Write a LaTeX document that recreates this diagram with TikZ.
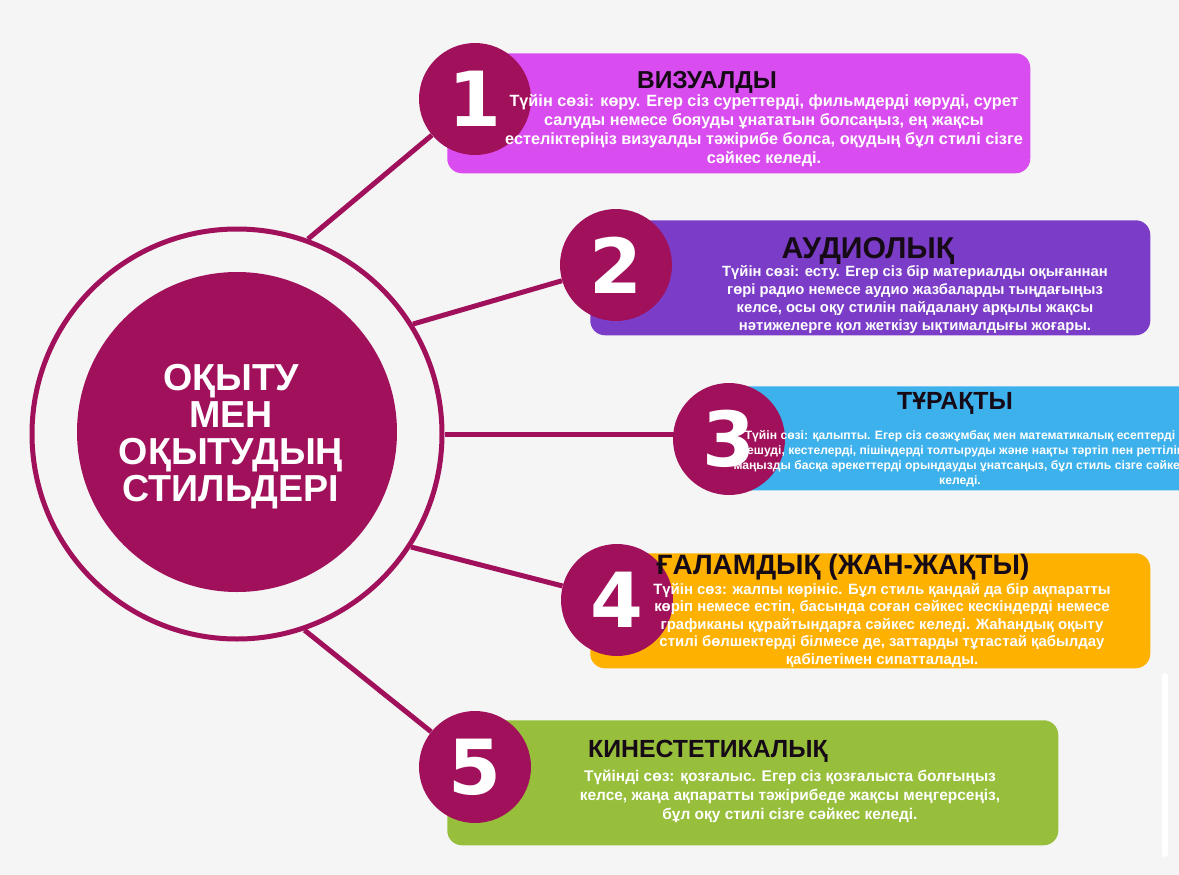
\documentclass[tikz,border=0pt]{standalone}
\usepackage{fontspec}
\setmainfont{Liberation Sans}
\newfontfamily\digitfont{DejaVu Sans}
\definecolor{bg}{HTML}{F5F5F5}
\definecolor{mag}{HTML}{A1105A}
\definecolor{cone}{HTML}{D94CEF}
\definecolor{ctwo}{HTML}{7B3DC8}
\definecolor{cthree}{HTML}{3CB1EC}
\definecolor{cfour}{HTML}{FFB100}
\definecolor{cfive}{HTML}{97BF3C}
\definecolor{titlec}{HTML}{150A15}
\pgfdeclarelayer{backfill}
\pgfdeclarelayer{lines}
\pgfsetlayers{backfill,lines,main}
\begin{document}
\begin{tikzpicture}[x=0.75pt,y=-0.75pt,
  conn/.style={draw=mag, line width=3.75pt},
  numc/.style={circle, fill=mag, minimum size=84pt, inner sep=0pt, text=white,
    font=\digitfont\bfseries\fontsize{57}{60}\selectfont},
  card/.style={rounded corners=11pt, inner sep=0pt, anchor=north west},
  ttl/.style={text=titlec, inner sep=0pt},
  body/.style={text=white, align=center, inner sep=0pt},
]
\begin{pgfonlayer}{backfill}
\fill[bg] (0,0) rectangle (1179,875);
\end{pgfonlayer}
\useasboundingbox (0,0) rectangle (1179,875);
% centre
\node[circle, draw=mag, line width=3.75pt, minimum size=307.5pt, inner sep=0pt] (ring) at (237,434) {};
\node[circle, fill=mag, minimum size=240pt, inner sep=0pt] (core) at (237,432) {};
\node[text=white, align=center, inner sep=0pt, font=\bfseries\fontsize{28.2}{27.8}\selectfont] (ctext) at (231,437)
  {ОҚЫТУ\\МЕН\\ОҚЫТУДЫҢ\\СТИЛЬДЕРІ};
% cards
\node[card, fill=cone,   minimum width=437.25pt, minimum height=90pt]    (b1) at (447,53) {};
\node[card, fill=ctwo,   minimum width=420pt,    minimum height=86.25pt] (b2) at (590,220) {};
\node[card, fill=cthree, minimum width=352.5pt,  minimum height=78pt]    (b3) at (730,386) {};
\node[card, fill=cfour,  minimum width=420pt,    minimum height=86.25pt] (b4) at (590,553) {};
\node[card, fill=cfive,  minimum width=458.25pt, minimum height=93.75pt] (b5) at (447,720) {};
% number circles
\node[numc] (n1) at (475,99)  {1};
\node[numc] (n2) at (616,265) {2};
\node[numc] (n3) at (729,439) {3};
\node[numc] (n4) at (617,600) {4};
\node[numc] (n5) at (475,767) {5};
% connectors
\begin{pgfonlayer}{lines}
\draw[conn] (ring.70) -- (n1);
\draw[conn] (ring.32) -- (n2);
\draw[conn] (ring.0) -- (ring.0 -| n3);
\draw[conn] (ring.-33) -- (n4);
\draw[conn] (ring.-71) -- (n5);
\end{pgfonlayer}
% texts
\node[ttl, font=\bfseries\fontsize{18.4}{20}\selectfont] (t1) at (707,82) {ВИЗУАЛДЫ};
\node[body, font=\bfseries\fontsize{12.2}{14.25}\selectfont] (x1) at (764,131)
  {Түйін сөзі: көру. Егер сіз суреттерді, фильмдерді көруді, сурет\\салуды немесе бояуды ұнататын болсаңыз, ең жақсы\\естеліктеріңіз визуалды тәжірибе болса, оқудың бұл стилі сізге\\сәйкес келеді.};
\node[ttl, font=\bfseries\fontsize{22.6}{24}\selectfont] (t2) at (868,251) {АУДИОЛЫҚ};
\node[body, font=\bfseries\fontsize{11.1}{13.5}\selectfont] (x2) at (915,300)
  {Түйін сөзі: есту. Егер сіз бір материалды оқығаннан\\гөрі радио немесе аудио жазбаларды тыңдағыңыз\\келсе, осы оқу стилін пайдалану арқылы жақсы\\нәтижелерге қол жеткізу ықтималдығы жоғары.};
\node[ttl, font=\bfseries\fontsize{18.6}{20}\selectfont] (t3) at (955,403) {ТҰРАҚТЫ};
\node[body, font=\bfseries\fontsize{9.1}{11.25}\selectfont] (x3) at (960,459)
  {Түйін сөзі: қалыпты. Егер сіз сөзжұмбақ мен математикалық есептерді\\шешуді, кестелерді, пішіндерді толтыруды және нақты тәртіп пен реттілік\\маңызды басқа әрекеттерді орындауды ұнатсаңыз, бұл стиль сізге сәйкес\\келеді.};
\node[ttl, font=\bfseries\fontsize{21}{22}\selectfont] (t4) at (843,567) {ҒАЛАМДЫҚ (ЖАН-ЖАҚТЫ)};
\node[body, font=\bfseries\fontsize{11.2}{13.1}\selectfont] (x4) at (882,625)
  {Түйін сөз: жалпы көрініс. Бұл стиль қандай да бір ақпаратты\\көріп немесе естіп, басында соған сәйкес кескіндерді немесе\\графиканы құрайтындарға сәйкес келеді. Жаһандық оқыту\\стилі бөлшектерді білмесе де, заттарды тұтастай қабылдау\\қабілетімен сипатталады.};
\node[ttl, font=\bfseries\fontsize{18.6}{20}\selectfont] (t5) at (708,751) {КИНЕСТЕТИКАЛЫҚ};
\node[body, font=\bfseries\fontsize{11.6}{14.25}\selectfont] (x5) at (790,796)
  {Түйінді сөз: қозғалыс. Егер сіз қозғалыста болғыңыз\\келсе, жаңа ақпаратты тәжірибеде жақсы меңгерсеңіз,\\бұл оқу стилі сізге сәйкес келеді.};
% faint strip at right edge
\fill[white, rounded corners=2pt] (1162,673) rectangle (1168,857);
\end{tikzpicture}
\end{document}
